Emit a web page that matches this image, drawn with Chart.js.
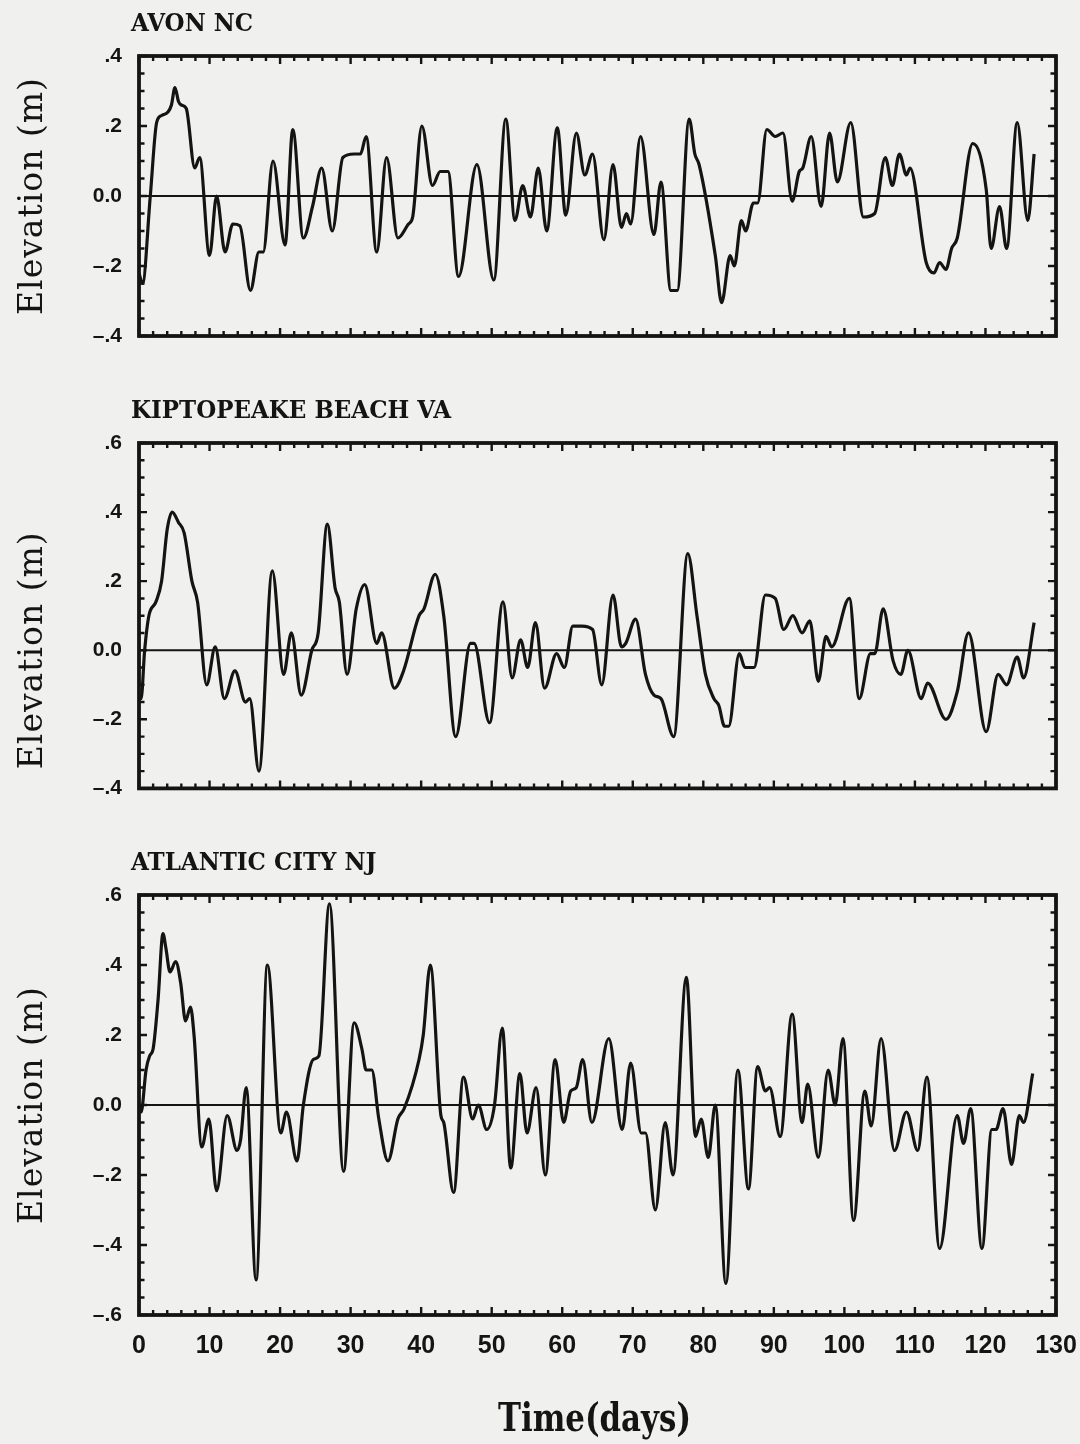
<!DOCTYPE html>
<html><head><meta charset="utf-8">
<script src="https://cdn.jsdelivr.net/npm/chart.js@4.4.1/dist/chart.umd.min.js"></script>
<style>
html,body{margin:0;padding:0;background:#f0f0ee;}
body{width:1080px;height:1444px;position:relative;overflow:hidden;}
canvas{position:absolute;left:0;}
</style></head><body>
<canvas id="c1" width="1080" height="370" style="top:0px;width:1080px;height:370px"></canvas>
<canvas id="c2" width="1080" height="440" style="top:370px;width:1080px;height:440px"></canvas>
<canvas id="c3" width="1080" height="644" style="top:800px;width:1080px;height:644px"></canvas>
<script>
// ---- data (days, elevation in m) ----
const avonDays = [0,0.5,1.6,2.5,3.2,4.1,4.6,5.1,5.6,6.0,6.7,7.9,8.6,10.0,11.0,12.2,13.3,14.3,15.8,17.0,17.6,19.0,20.7,21.8,23.3,24.6,25.9,27.4,28.9,30.5,31.4,32.2,33.7,35.1,36.7,38.2,38.8,40.1,41.6,42.7,43.8,45.3,47.9,50.3,52.0,53.3,54.4,55.5,56.6,57.8,59.3,60.5,62.0,63.2,64.3,65.9,67.2,68.4,69.1,69.7,71.1,73.0,74.0,75.4,76.3,78.0,78.8,79.4,81.7,82.6,83.8,84.4,85.4,86.0,87.1,87.7,89.0,90.2,91.3,92.6,93.6,94.1,95.3,96.7,97.9,99.0,100.9,102.7,104.3,105.8,106.8,107.8,108.8,109.3,111.6,112.7,113.5,114.4,115.2,116.0,118.2,120.1,120.8,122.0,123.0,124.5,126.0,126.9];
const avonElev = [-0.22,-0.25,0.0,0.21,0.23,0.24,0.26,0.31,0.27,0.26,0.25,0.08,0.11,-0.17,0.0,-0.16,-0.08,-0.085,-0.27,-0.16,-0.16,0.10,-0.14,0.19,-0.12,-0.03,0.08,-0.10,0.11,0.12,0.12,0.17,-0.16,0.11,-0.12,-0.08,-0.06,0.20,0.03,0.07,0.07,-0.23,0.09,-0.24,0.22,-0.07,0.03,-0.06,0.08,-0.10,0.195,-0.055,0.18,0.06,0.12,-0.125,0.09,-0.09,-0.05,-0.08,0.17,-0.11,0.04,-0.27,-0.27,0.22,0.12,0.09,-0.17,-0.305,-0.17,-0.20,-0.07,-0.10,-0.02,-0.02,0.19,0.17,0.18,-0.015,0.07,0.08,0.17,-0.03,0.18,0.04,0.21,-0.06,-0.05,0.11,0.03,0.12,0.06,0.08,-0.19,-0.22,-0.19,-0.21,-0.15,-0.12,0.15,0.02,-0.15,-0.03,-0.15,0.21,-0.07,0.12];

const kipDays = [0,0.3,0.8,1.4,2.4,3.2,4.0,4.7,5.6,6.4,7.5,8.3,9.6,10.8,12.1,13.6,15.1,15.7,17.0,18.9,20.5,21.6,23.0,24.5,25.4,26.7,27.8,28.4,29.5,30.8,32.0,33.7,34.4,36.2,37.5,39.7,40.4,42.0,43.2,44.9,47.0,47.5,49.7,51.6,52.9,54.1,55.1,56.2,57.5,59.2,60.3,61.5,62.8,64.3,65.6,67.2,68.4,69.0,70.4,71.8,73.0,74.0,75.8,77.8,79.1,80.3,81.5,82.2,83.0,83.6,85.1,85.9,87.2,88.8,90.2,91.4,92.7,94.0,95.1,96.3,97.4,98.2,100.7,102.1,103.7,104.3,105.5,106.9,108.0,109.0,110.9,111.8,114.4,116.0,117.6,120.1,121.8,123.0,124.5,125.4,126.9];
const kipElev = [-0.13,-0.14,0.0,0.10,0.14,0.20,0.35,0.40,0.37,0.34,0.20,0.14,-0.10,0.01,-0.14,-0.06,-0.15,-0.14,-0.35,0.23,-0.07,0.05,-0.13,0.0,0.05,0.365,0.18,0.14,-0.07,0.12,0.19,0.02,0.05,-0.11,-0.06,0.10,0.12,0.22,0.10,-0.25,0.02,0.02,-0.21,0.14,-0.08,0.03,-0.05,0.08,-0.11,-0.01,-0.05,0.07,0.07,0.06,-0.10,0.16,0.01,0.02,0.09,-0.07,-0.13,-0.14,-0.25,0.28,0.10,-0.07,-0.14,-0.16,-0.22,-0.22,-0.01,-0.05,-0.05,0.16,0.15,0.06,0.10,0.05,0.085,-0.09,0.04,0.01,0.15,-0.14,-0.01,-0.01,0.12,-0.03,-0.07,0.0,-0.14,-0.095,-0.20,-0.12,0.05,-0.236,-0.07,-0.10,-0.02,-0.08,0.08];

const acDays = [0,0.3,1.0,1.5,2.0,2.7,3.4,3.8,4.4,5.2,5.9,6.6,7.3,7.8,8.9,9.9,11.0,12.5,13.9,14.4,15.2,16.6,18.2,20.1,20.9,22.4,23.3,24.7,25.5,27.0,29.0,30.5,31.6,32.2,33.0,34.0,35.3,36.7,37.6,39.7,40.3,41.3,42.8,43.2,44.6,46.0,47.3,48.1,49.3,50.4,51.5,52.7,54.0,55.0,56.3,57.6,59.0,60.2,61.2,62.0,62.9,64.2,66.6,68.5,69.7,71.2,71.8,73.2,74.6,75.7,77.6,78.9,79.7,80.7,81.7,83.2,84.9,86.4,87.7,88.8,89.4,90.9,92.6,94.0,94.8,96.3,97.7,98.7,99.8,101.3,102.9,103.8,105.2,107.1,108.8,110.4,111.7,113.5,116.0,116.9,117.9,119.5,120.9,121.5,122.5,123.7,124.8,125.4,126.7];
const acElev = [0.0,-0.02,0.10,0.14,0.16,0.30,0.49,0.45,0.38,0.41,0.35,0.24,0.28,0.20,-0.12,-0.04,-0.245,-0.03,-0.13,-0.10,0.05,-0.50,0.40,-0.08,-0.02,-0.16,0.0,0.13,0.14,0.575,-0.19,0.235,0.16,0.10,0.10,-0.04,-0.16,-0.04,-0.01,0.13,0.20,0.40,-0.03,-0.05,-0.25,0.08,-0.04,0.0,-0.07,0.0,0.22,-0.18,0.09,-0.08,0.05,-0.20,0.13,-0.05,0.04,0.05,0.13,-0.05,0.19,-0.07,0.12,-0.08,-0.08,-0.30,-0.05,-0.20,0.365,-0.09,-0.04,-0.15,0.0,-0.51,0.10,-0.24,0.11,0.04,0.05,-0.09,0.26,-0.05,0.06,-0.15,0.10,0.0,0.19,-0.33,0.04,-0.06,0.19,-0.13,-0.02,-0.13,0.08,-0.41,-0.03,-0.11,-0.01,-0.41,-0.07,-0.07,-0.01,-0.17,-0.03,-0.05,0.09];

// ---- tick labels ----
const xTicks = [0,10,20,30,40,50,60,70,80,90,100,110,120,130];
const avonYTicks = [-0.4,-0.2,0,0.2,0.4];
const kipYTicks = [-0.4,-0.2,0,0.2,0.4,0.6];
const acYTicks = [-0.6,-0.4,-0.2,0,0.2,0.4,0.6];
const panelTitles = ['AVON NC','KIPTOPEAKE BEACH VA','ATLANTIC CITY NJ'];
const yTitle = 'Elevation (m)';
const xTitle = 'Time(days)';

const INK = '#141414';

function fmtY(v){
  if (Math.abs(v) < 1e-9) return '0.0';
  const s = Math.abs(v).toFixed(1).replace(/^0/, '');
  return (v < 0 ? '\u2013' : '') + s;
}

const framePlugin = {
  id: 'frame',
  beforeDatasetsDraw(chart){
    const {ctx, chartArea: a} = chart;
    const y = chart.scales.y;
    const z = y.getPixelForValue(0);
    ctx.save();
    ctx.strokeStyle = INK; ctx.lineWidth = 2.2;
    ctx.beginPath(); ctx.moveTo(a.left, z); ctx.lineTo(a.right, z); ctx.stroke();
    ctx.restore();
  },
  afterDatasetsDraw(chart){
    const {ctx, chartArea: a} = chart;
    const x = chart.scales.x, y = chart.scales.y;
    ctx.save();
    ctx.strokeStyle = INK; ctx.lineWidth = 2.4; ctx.lineCap = 'butt';
    ctx.beginPath();
    for (let d = 0; d <= 130; d += 2) {
      const px = x.getPixelForValue(d);
      const len = (d % 10 === 0) ? 8 : 5;
      ctx.moveTo(px, a.bottom); ctx.lineTo(px, a.bottom - len);
      ctx.moveTo(px, a.top); ctx.lineTo(px, a.top + len);
    }
    const lo = Math.round(y.min * 20), hi = Math.round(y.max * 20);
    for (let i = lo; i <= hi; i++) {
      const py = y.getPixelForValue(i / 20);
      const len = (i % 4 === 0) ? 8 : 5.5;
      ctx.moveTo(a.left, py); ctx.lineTo(a.left + len, py);
      ctx.moveTo(a.right, py); ctx.lineTo(a.right - len, py);
    }
    ctx.stroke();
    ctx.lineWidth = 3.8;
    ctx.strokeRect(a.left, a.top, a.right - a.left, a.bottom - a.top);
    ctx.restore();
  },
  afterDraw(chart, args, opts){
    const {ctx, chartArea: a} = chart;
    const y = chart.scales.y;
    ctx.save();
    ctx.fillStyle = INK;
    // panel title
    ctx.save();
    ctx.font = 'bold 25px "DejaVu Serif"';
    ctx.letterSpacing = '0px';
    ctx.textAlign = 'left'; ctx.textBaseline = 'alphabetic';
    ctx.translate(a.left - 8, a.top - 25);
    ctx.scale(0.92, 1);
    ctx.fillText(opts.title, 0, 0);
    ctx.restore();
    // y-axis title
    ctx.save();
    ctx.font = '33px "DejaVu Serif"';
    ctx.letterSpacing = '1px';
    ctx.translate(42, y.getPixelForValue(0));
    ctx.rotate(-Math.PI / 2);
    ctx.textAlign = 'center';
    ctx.fillText(yTitle, 0, 0);
    ctx.restore();
    // x-axis title
    if (opts.xTitle) {
      ctx.save();
      ctx.letterSpacing = '0px';
      ctx.font = 'bold 40px "DejaVu Serif"';
      const w = ctx.measureText(xTitle).width;
      ctx.translate((a.left + a.right) / 2 - 3, a.bottom + 116);
      ctx.scale(193 / w, 1);
      ctx.textAlign = 'center';
      ctx.fillText(xTitle, 0, 0);
      ctx.restore();
    }
    ctx.restore();
  }
};

function makeChart(id, days, elev, yTicks, title, showX, padTop, padBottom){
  const pts = days.map((d, i) => ({x: d, y: elev[i]}));
  return new Chart(document.getElementById(id), {
    type: 'line',
    data: { datasets: [{
      data: pts,
      borderColor: INK,
      borderWidth: 3.2,
      pointRadius: 0,
      fill: false,
      cubicInterpolationMode: 'monotone',
      tension: 0.4
    }]},
    options: {
      responsive: false,
      animation: false,
      devicePixelRatio: 1,
      parsing: false,
      layout: { padding: { left: 0, right: 24, top: padTop, bottom: padBottom } },
      plugins: {
        legend: { display: false },
        tooltip: { enabled: false },
        title: { display: false },
        frame: { title: title, xTitle: showX }
      },
      scales: {
        x: {
          type: 'linear', min: 0, max: 130,
          display: showX,
          grid: { display: false },
          border: { display: false },
          afterBuildTicks: s => { s.ticks = xTicks.map(v => ({value: v})); },
          afterFit: s => { if (showX) { s.height = 40; s.paddingLeft = 0; s.paddingRight = 0; } },
          ticks: {
            padding: 8,
            color: INK,
            maxRotation: 0,
            autoSkip: false,
            font: { family: '"Liberation Sans", Arial, sans-serif', weight: 'bold', size: 25 },
            callback: v => String(v)
          }
        },
        y: {
          type: 'linear',
          min: yTicks[0], max: yTicks[yTicks.length - 1],
          grid: { display: false },
          border: { display: false },
          afterBuildTicks: s => { s.ticks = yTicks.map(v => ({value: v})); },
          afterFit: s => { s.width = 139; },
          ticks: {
            padding: 9,
            color: INK,
            autoSkip: false,
            font: { family: '"Liberation Sans", Arial, sans-serif', weight: 'bold', size: 21 },
            callback: v => fmtY(v)
          }
        }
      }
    },
    plugins: [framePlugin]
  });
}

makeChart('c1', avonDays, avonElev, avonYTicks, panelTitles[0], false, 56, 34);
makeChart('c2', kipDays, kipElev, kipYTicks, panelTitles[1], false, 73, 20);
makeChart('c3', acDays, acElev, acYTicks, panelTitles[2], true, 95, 89);
</script>
</body></html>
